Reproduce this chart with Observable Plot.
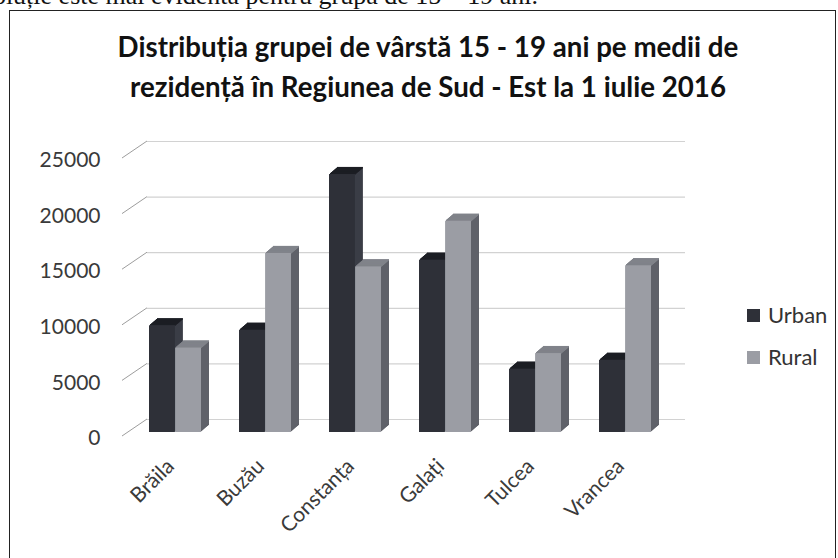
<!DOCTYPE html>
<html><head><meta charset="utf-8">
<script src="https://cdn.jsdelivr.net/npm/d3@7"></script>
<script src="https://cdn.jsdelivr.net/npm/@observablehq/plot@0.6"></script>
<style>
html,body{margin:0;padding:0;background:#fff;}
body{width:838px;height:558px;overflow:hidden;position:relative;font-family:Lato,"Open Sans",sans-serif;}
#above{position:absolute;right:300px;top:-17px;font-family:"Liberation Serif",serif;font-size:26px;line-height:26px;white-space:nowrap;color:#111;}
#frame{position:absolute;left:9px;top:10px;width:827px;height:570px;border:1.5px solid #222;box-sizing:border-box;background:#fff;}
#title{position:absolute;left:0;top:27px;width:856px;text-align:center;font-weight:bold;font-size:29px;line-height:40px;color:#111;}
#title span{white-space:nowrap;}
#chart{position:absolute;left:0;top:120px;}
.leg{position:absolute;left:747px;font-size:22px;color:#333;line-height:26px;}
.leg i{position:absolute;left:0;top:7px;width:13px;height:13px;}
.leg span{position:absolute;left:21px;top:0;white-space:nowrap;}
</style></head>
<body>
<div id="above">…evoluție este mai evidentă pentru grupa de 15 – 19 ani.</div>
<div id="frame"></div>
<div id="title"><span id="t1">Distribuția grupei de vârstă 15 - 19 ani pe medii de</span><br><span id="t2">rezidență în Regiunea de Sud - Est la 1 iulie 2016</span></div>
<div id="chart"></div>
<div id="legend"></div>
<script>
const counties = ["Brăila", "Buzău", "Constanța", "Galați", "Tulcea", "Vrancea"];
const urban = [9600, 9200, 23200, 15500, 5700, 6500];
const rural = [7600, 16100, 14900, 19000, 7100, 15000];
const seriesNames = ["Urban", "Rural"];
const yTicks = [0, 5000, 10000, 15000, 20000, 25000];

const colors = {
  Urban: {front: "#2e3038", side: "#3b3e46", top: "#1c1e24"},
  Rural: {front: "#9b9da4", side: "#5f6169", top: "#80838a"}
};

const rows = counties.map((c, i) => ({county: c, Urban: urban[i], Rural: rural[i]}));

const W = 720, H = 440, ML = 130, MR = 50, MT = 34, MB = 128;
const half = 26.1;
const STEPS = 8;

function extruded(key, insets) {
  const c = colors[key];
  const marks = [];
  for (let k = STEPS; k >= 1; k--) {
    marks.push(Plot.barY(rows, {x: "county", y: key, fill: c.side, dx: k, dy: -0.85 * k, ...insets}));
  }
  for (let k = 1; k <= STEPS; k++) {
    marks.push(Plot.tickY(rows, {x: "county", y: key, stroke: c.top, strokeWidth: 1.6, dx: k, dy: -0.85 * k, ...insets}));
  }
  marks.push(Plot.barY(rows, {x: "county", y: key, fill: c.front, ...insets}));
  return marks;
}

const chart = Plot.plot({
  width: W, height: H,
  marginLeft: ML, marginRight: MR, marginTop: MT, marginBottom: MB,
  x: {domain: counties, paddingInner: 0.42, paddingOuter: 0.21, axis: null},
  y: {domain: [0, 25000], axis: null},
  style: {fontFamily: "Lato, 'Open Sans', sans-serif", background: "transparent", overflow: "visible"},
  marks: [
    Plot.ruleY(yTicks, {stroke: "#d2d2d2", strokeWidth: 1.2, dy: -13, insetLeft: 17, insetRight: -15}),
    Plot.ruleY(yTicks, {
      stroke: "#999",
      render: (index, scales, values, dimensions) => {
        const g = d3.create("svg:g").attr("stroke", "#9d9d9d").attr("stroke-width", 1);
        for (const i of index) {
          const y = values.y[i];
          g.append("line")
            .attr("x1", dimensions.marginLeft - 8).attr("y1", y + 4)
            .attr("x2", dimensions.marginLeft + 17).attr("y2", y - 13);
        }
        return g.node();
      }
    }),
    ...extruded("Urban", {insetRight: half}),
    ...extruded("Rural", {insetLeft: half}),
    Plot.text(yTicks, {y: d => d, text: d => String(d), frameAnchor: "left", textAnchor: "end", dx: -30, dy: 6, fontSize: 21, fill: "#3a3a3a"}),
    Plot.text(counties, {x: d => d, text: d => d, frameAnchor: "bottom", textAnchor: "end", rotate: -45, dx: 0, dy: 35, fontSize: 21, fill: "#3a3a3a"})
  ]
});
document.getElementById("chart").appendChild(chart);

// legend
const legend = document.getElementById("legend");
const legTops = {Urban: 302, Rural: 344};
for (const s of seriesNames) {
  const d = document.createElement("div");
  d.className = "leg";
  d.style.top = legTops[s] + "px";
  d.innerHTML = `<i style="background:${colors[s].front}"></i><span>${s}</span>`;
  legend.appendChild(d);
}

// fit title line 1 to its width in the reference
const t1 = document.getElementById("t1");
const w = t1.getBoundingClientRect().width;
const fs = 29 * 622 / w;
document.getElementById("title").style.fontSize = fs.toFixed(1) + "px";
</script>
</body></html>
